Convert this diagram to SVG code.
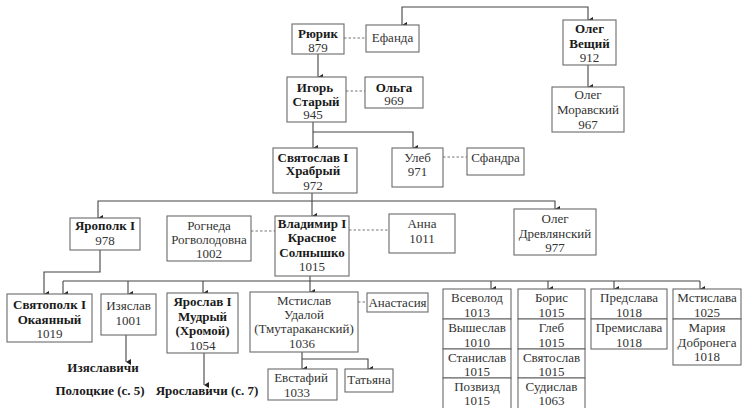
<svg xmlns="http://www.w3.org/2000/svg" width="742" height="408" viewBox="0 0 742 408">
<defs>
<marker id="ah" markerUnits="userSpaceOnUse" markerWidth="6" markerHeight="6" refX="3" refY="5" orient="auto-start-reverse" viewBox="0 0 6 6">
<path d="M0,0 L6,0 L3,5 Z" fill="#222"/>
</marker>
</defs>
<style>
rect{fill:#fff;stroke:#6a6a6a;stroke-width:1.1}
text{font-family:"Liberation Serif","Times New Roman",serif;font-size:13px;fill:#333;text-anchor:middle}
.b{font-weight:bold;fill:#1a1a1a}
.c{fill:none;stroke:#444;stroke-width:1.1}
.a{marker-end:url(#ah)}
.d{fill:none;stroke:#777;stroke-width:1;stroke-dasharray:2.5,2}
</style>
<rect x="0" y="0" width="742" height="408" style="fill:#fff;stroke:none"/>

<g id="connectors">
<path class="c a" d="M402,25 V7 H588 V20" marker-start="url(#ah)"/>
<path class="c a" d="M318,54 V77"/>
<path class="c a" d="M588,65 V87"/>
<path class="c a" d="M313,122 V148"/>
<path class="c a" d="M313,132 H413 V148"/>
<path class="c a" d="M312,193 V216"/>
<path class="c a" d="M312,201 H98 V218"/>
<path class="c a" d="M312,201 H555 V209"/>
<path class="c a" d="M100,250 V272 H44 V294"/>
<path class="c" d="M310,276 V281"/>
<path class="c" d="M63,281 H700"/>
<path class="c a" d="M63,281 V294"/>
<path class="c a" d="M128,281 V294"/>
<path class="c a" d="M203,281 V293"/>
<path class="c a" d="M310,281 V292"/>
<path class="c a" d="M491,281 V289"/>
<path class="c a" d="M548,281 V289"/>
<path class="c a" d="M614,281 V289"/>
<path class="c a" d="M700,281 V289"/>
<path class="c a" d="M126,335 V362"/>
<path class="c a" d="M204,353 V385"/>
<path class="c a" d="M302,352 V369"/>
<path class="c a" d="M302,359 H368 V369"/>
<path class="d" d="M344,38 H366"/>
<path class="d" d="M346,91 H365"/>
<path class="d" d="M443,157 H467"/>
<path class="d" d="M251,231 H275"/>
<path class="d" d="M349,230 H389"/>
<path class="d" d="M358,302 H367"/>
</g>

<g id="rurik"><rect x="292" y="24" width="52" height="30"/><text x="318" y="38" class="b">Рюрик</text><text x="318" y="52">879</text></g>
<g id="efanda"><rect x="366" y="25" width="53" height="27"/><text x="392.5" y="42">Ефанда</text></g>
<g id="oleg-veshchy"><rect x="563" y="20" width="53" height="45"/><text x="589.5" y="33" class="b">Олег</text><text x="589.5" y="47.5" class="b">Вещий</text><text x="589.5" y="62">912</text></g>
<g id="oleg-moravsky"><rect x="552" y="87" width="72" height="45"/><text x="588" y="99">Олег</text><text x="588" y="114">Моравский</text><text x="588" y="128.5">967</text></g>
<g id="igor"><rect x="287" y="77" width="59" height="45"/><text x="315" y="91.5" class="b">Игорь</text><text x="316" y="105.5" class="b">Старый</text><text x="313" y="119">945</text></g>
<g id="olga"><rect x="365" y="77" width="58" height="31"/><text x="394" y="91.5" class="b">Ольга</text><text x="394" y="105">969</text></g>
<g id="svyatoslav"><rect x="273" y="148" width="84" height="45"/><text x="313" y="161.5" class="b">Святослав I</text><text x="313" y="175" class="b">Храбрый</text><text x="313" y="189.5">972</text></g>
<g id="uleb"><rect x="392" y="148" width="51" height="39"/><text x="417.5" y="161.5">Улеб</text><text x="417.5" y="176">971</text></g>
<g id="sfandra"><rect x="467" y="148" width="57" height="27"/><text x="495.5" y="161.5">Сфандра</text></g>
<g id="yaropolk"><rect x="70" y="218" width="70" height="32"/><text x="105" y="230" class="b">Ярополк I</text><text x="105" y="245">978</text></g>
<g id="rogneda"><rect x="167" y="216" width="84" height="45"/><text x="209" y="230">Рогнеда</text><text x="209" y="244">Рогволодовна</text><text x="209" y="258">1002</text></g>
<g id="vladimir"><rect x="275" y="216" width="74" height="60"/><text x="312" y="228" class="b">Владимир I</text><text x="312" y="242" class="b">Красное</text><text x="312" y="256.5" class="b">Солнышко</text><text x="312" y="271">1015</text></g>
<g id="anna"><rect x="389" y="214" width="66" height="39"/><text x="422" y="228">Анна</text><text x="422" y="243">1011</text></g>
<g id="oleg-drevlyansky"><rect x="514" y="209" width="82" height="46"/><text x="555" y="223">Олег</text><text x="555" y="237.5">Древлянский</text><text x="555" y="252">977</text></g>
<g id="svyatopolk"><rect x="7" y="294" width="85" height="48"/><text x="49.5" y="309" class="b">Святополк I</text><text x="49.5" y="323.5" class="b">Окаянный</text><text x="49.5" y="338">1019</text></g>
<g id="izyaslav"><rect x="101" y="294" width="55" height="41"/><text x="128.5" y="310">Изяслав</text><text x="128.5" y="324.5">1001</text></g>
<g id="yaroslav"><rect x="167" y="293" width="71" height="60"/><text x="202.5" y="306" class="b">Ярослав I</text><text x="202.5" y="320.5" class="b">Мудрый</text><text x="202.5" y="335" class="b">(Хромой)</text><text x="202.5" y="349.5">1054</text></g>
<g id="izyaslavichi"><text x="103" y="372" class="b">Изяславичи</text><text x="100" y="395" class="b">Полоцкие (с. 5)</text></g>
<g id="yaroslavichi"><text x="207" y="395" class="b">Ярославичи (с. 7)</text></g>
<g id="mstislav"><rect x="250" y="292" width="108" height="60"/><text x="304" y="305">Мстислав</text><text x="304" y="319">Удалой</text><text x="304" y="333">(Тмутараканский)</text><text x="302" y="347.5">1036</text></g>
<g id="anastasia"><rect x="367" y="293" width="61" height="19"/><text x="397.5" y="306.5">Анастасия</text></g>
<g id="evstafy"><rect x="268" y="369" width="69" height="31"/><text x="301" y="381.5">Евстафий</text><text x="297" y="396.5">1033</text></g>
<g id="tatyana"><rect x="345" y="369" width="48" height="23"/><text x="369" y="384">Татьяна</text></g>
<g id="vsevolod-group">
<rect x="443" y="289" width="68" height="30"/><text x="477" y="302">Всеволод</text><text x="477" y="316.5">1013</text>
<rect x="443" y="319" width="68" height="30"/><text x="477" y="332">Вышеслав</text><text x="477" y="346.5">1010</text>
<rect x="443" y="349" width="68" height="29"/><text x="477" y="362">Станислав</text><text x="477" y="376">1015</text>
<rect x="443" y="378" width="68" height="32"/><text x="477" y="391">Позвизд</text><text x="477" y="405">1015</text>
</g>
<g id="boris-group">
<rect x="518" y="289" width="67" height="30"/><text x="551.5" y="302">Борис</text><text x="551.5" y="316.5">1015</text>
<rect x="518" y="319" width="67" height="30"/><text x="551.5" y="332">Глеб</text><text x="551.5" y="346.5">1015</text>
<rect x="518" y="349" width="67" height="29"/><text x="551.5" y="362">Святослав</text><text x="551.5" y="376">1015</text>
<rect x="518" y="378" width="67" height="32"/><text x="551.5" y="391">Судислав</text><text x="551.5" y="405">1063</text>
</g>
<g id="predslava-group">
<rect x="591" y="289" width="76" height="30"/><text x="629" y="302">Предслава</text><text x="629" y="316.5">1018</text>
<rect x="591" y="319" width="76" height="30"/><text x="629" y="332">Премислава</text><text x="629" y="346.5">1018</text>
</g>
<g id="mstislava-group">
<rect x="673" y="289" width="68" height="30"/><text x="707" y="302">Мстислава</text><text x="707" y="316.5">1025</text>
<rect x="673" y="319" width="68" height="46"/><text x="707" y="332">Мария</text><text x="707" y="346.5">Добронега</text><text x="707" y="361">1018</text>
</g>
</svg>
